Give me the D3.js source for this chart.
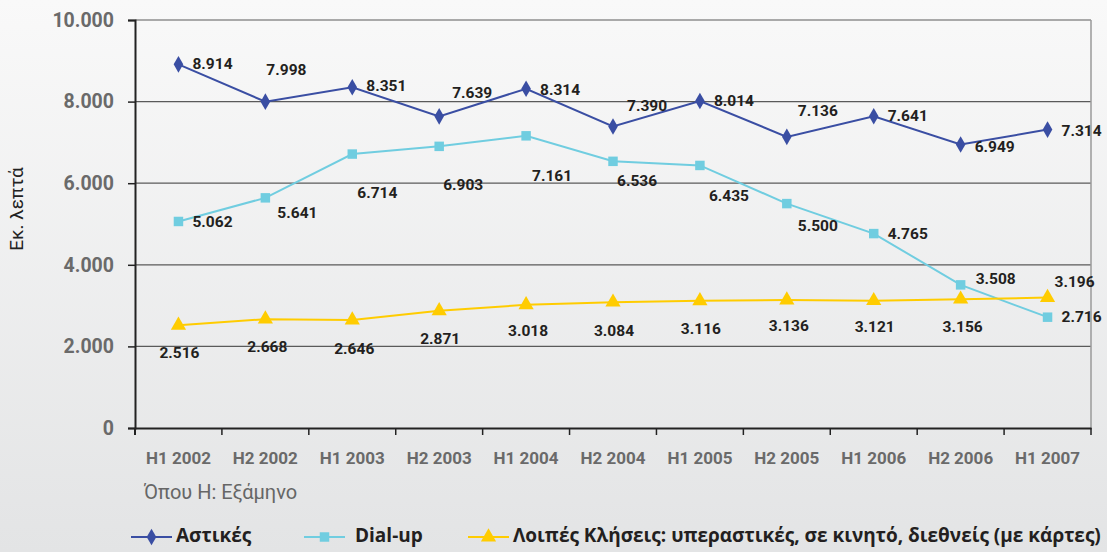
<!DOCTYPE html>
<html lang="el">
<head>
<meta charset="UTF-8">
<title>Εκ. λεπτά ανά εξάμηνο</title>
<script src="https://cdn.jsdelivr.net/npm/d3@7/dist/d3.min.js"></script>
<style>
    body { margin: 0; background: #e6e7e8; }
    svg { display: block; }
</style>
</head>
<body>
<script>
    // data
    const categories = ["H1 2002", "H2 2002", "H1 2003", "H2 2003", "H1 2004", "H2 2004",
                        "H1 2005", "H2 2005", "H1 2006", "H2 2006", "H1 2007"];
    const astikes = [8914, 7998, 8351, 7639, 8314, 7390, 8014, 7136, 7641, 6949, 7314];
    const dialup  = [5062, 5641, 6714, 6903, 7161, 6536, 6435, 5500, 4765, 3508, 2716];
    const loipes  = [2516, 2668, 2646, 2871, 3018, 3084, 3116, 3136, 3121, 3156, 3196];
    const yTicks = [0, 2000, 4000, 6000, 8000, 10000];
    const seriesNames = ["Αστικές", "Dial-up", "Λοιπές Κλήσεις: υπεραστικές, σε κινητό, διεθνείς (με κάρτες)"];

    // where each value label sits relative to its point: [dx, dy, anchor]
    const astikesLbl = [[14,1,"start"],[1,-31,"start"],[14,0,"start"],[13,-22,"start"],[14,2,"start"],
        [14,-20,"start"],[14,1,"start"],[11,-25,"start"],[14,1,"start"],[14,3,"start"],[14,2,"start"]];
    const dialupLbl = [[14,1,"start"],[12,16,"start"],[5,40,"start"],[4,40,"start"],[6,41,"start"],
        [4,21,"start"],[9,31,"start"],[11,23,"start"],[14,1,"start"],[15,-5,"start"],[14,1,"start"]];
    const loipesLbl = [[1,29,"middle"],[2,29,"middle"],[2,30,"middle"],[1,29,"middle"],[2,27,"middle"],
        [1,30,"middle"],[1,29,"middle"],[2,27,"middle"],[1,27,"middle"],[2,29,"middle"],[7,-15,"start"]];

    const width = 1107, height = 552;
    const mLeft = 135, mRight = 1091, mTop = 20, mBottom = 428;

    const fmt = d3.formatLocale({decimal: ",", thousands: ".", grouping: [3], currency: ["", "€"]}).format(",d");

    const svg = d3.select("body").append("svg")
        .attr("width", width)
        .attr("height", height);

    // background gradient
    const grad = svg.append("defs").append("linearGradient")
        .attr("id", "bg").attr("x1", 0).attr("y1", 0).attr("x2", 0).attr("y2", 1);
    grad.append("stop").attr("offset", "0%").attr("stop-color", "#f9f9f9");
    grad.append("stop").attr("offset", "100%").attr("stop-color", "#e3e4e5");
    svg.append("rect").attr("width", width).attr("height", height).attr("fill", "url(#bg)");

    const x = d3.scaleBand().domain(categories).range([mLeft, mRight]);
    const y = d3.scaleLinear().domain([0, 10000]).range([mBottom, mTop]);
    const cx = d => x(d) + x.bandwidth() / 2;

    // gridlines
    svg.append("g").selectAll("line")
        .data(yTicks.filter(t => t > 0))
        .join("line")
        .attr("x1", mLeft).attr("x2", mRight)
        .attr("y1", d => y(d)).attr("y2", d => y(d))
        .attr("stroke", "#5a5a5a").attr("stroke-width", 1.2);

    // right border
    svg.append("line")
        .attr("x1", mRight).attr("x2", mRight).attr("y1", mTop).attr("y2", mBottom)
        .attr("stroke", "#9a9a9a").attr("stroke-width", 1.5);

    // y axis
    const yAxis = svg.append("g")
        .attr("transform", `translate(${mLeft},0)`)
        .call(d3.axisLeft(y).tickValues(yTicks).tickFormat(fmt).tickSize(7).tickPadding(14));
    yAxis.select(".domain").attr("stroke", "#222").attr("stroke-width", 2);
    yAxis.selectAll(".tick line").attr("stroke", "#222").attr("stroke-width", 1.5);
    yAxis.selectAll("text")
        .attr("fill", "#6a6a6a")
        .style("font-family", "Roboto, sans-serif")
        .style("font-weight", "bold")
        .style("font-size", "19.5px");

    // x axis, ticks between the categories
    const xAxis = svg.append("g")
        .attr("transform", `translate(0,${mBottom})`)
        .call(d3.axisBottom(x).tickSize(0).tickPadding(24));
    xAxis.select(".domain").attr("stroke", "#222").attr("stroke-width", 2);
    xAxis.selectAll("text")
        .attr("fill", "#6a6a6a")
        .style("font-family", "Roboto, sans-serif")
        .style("font-weight", "bold")
        .style("font-size", "17px");
    svg.append("g").selectAll("line")
        .data(categories)
        .join("line")
        .attr("x1", d => x(d) + x.bandwidth()).attr("x2", d => x(d) + x.bandwidth())
        .attr("y1", mBottom).attr("y2", mBottom + 7)
        .attr("stroke", "#222").attr("stroke-width", 1.5);
    svg.append("line")
        .attr("x1", mLeft).attr("x2", mLeft).attr("y1", mBottom).attr("y2", mBottom + 7)
        .attr("stroke", "#222").attr("stroke-width", 2);

    // axis title + note
    svg.append("text")
        .attr("transform", "translate(18,209) rotate(-90)")
        .attr("text-anchor", "middle")
        .attr("dominant-baseline", "middle")
        .attr("fill", "#222")
        .style("font-family", "Roboto, sans-serif")
        .style("font-size", "19px")
        .text("Εκ. λεπτά");
    svg.append("text")
        .attr("x", 144).attr("y", 494)
        .attr("dominant-baseline", "middle")
        .attr("fill", "#666")
        .style("font-family", "Roboto, sans-serif")
        .style("font-size", "20px")
        .text("Όπου Η: Εξάμηνο");

    const series = [
        {name: seriesNames[0], values: astikes, labels: astikesLbl, color: "#3a4ea3", symbol: d3.symbolDiamond, size: 80},
        {name: seriesNames[1], values: dialup, labels: dialupLbl, color: "#70cde0", symbol: d3.symbolSquare, size: 90},
        {name: seriesNames[2], values: loipes, labels: loipesLbl, color: "#ffcc00", symbol: d3.symbolTriangle, size: 100}
    ];

    const line = d3.line()
        .x((d, i) => cx(categories[i]))
        .y(d => y(d));

    series.forEach(s => {
        const g = svg.append("g");
        g.append("path")
            .attr("d", line(s.values))
            .attr("fill", "none")
            .attr("stroke", s.color)
            .attr("stroke-width", 2);
        g.selectAll("path.m")
            .data(s.values)
            .join("path")
            .attr("class", "m")
            .attr("transform", (d, i) => `translate(${cx(categories[i])},${y(d)})`)
            .attr("d", d3.symbol().type(s.symbol).size(s.size))
            .attr("fill", s.color);
        g.selectAll("text")
            .data(s.values)
            .join("text")
            .attr("x", (d, i) => cx(categories[i]) + s.labels[i][0])
            .attr("y", (d, i) => y(d) + s.labels[i][1])
            .attr("text-anchor", (d, i) => s.labels[i][2])
            .attr("dominant-baseline", "middle")
            .attr("fill", "#231f20")
            .style("font-family", "Roboto, sans-serif")
            .style("font-weight", "bold")
            .style("font-size", "15.5px")
            .text(d => fmt(d));
    });

    // legend
    const legendX = [131, 304, 468];
    const legend = svg.append("g");
    series.forEach((s, i) => {
        const lg = legend.append("g").attr("transform", `translate(${legendX[i]},537)`);
        lg.append("line").attr("x1", 0).attr("x2", 41)
            .attr("stroke", s.color).attr("stroke-width", 2);
        lg.append("path")
            .attr("transform", "translate(20.5,0)")
            .attr("d", d3.symbol().type(s.symbol).size(s.size))
            .attr("fill", s.color);
        lg.append("text")
            .attr("x", i === 1 ? 51 : 45)
            .attr("dominant-baseline", "middle")
            .attr("fill", "#231f20")
            .style("font-family", "'Open Sans', sans-serif")
            .style("font-weight", "bold")
            .style("font-size", "19px")
            .text(s.name);
    });
</script>
</body>
</html>
